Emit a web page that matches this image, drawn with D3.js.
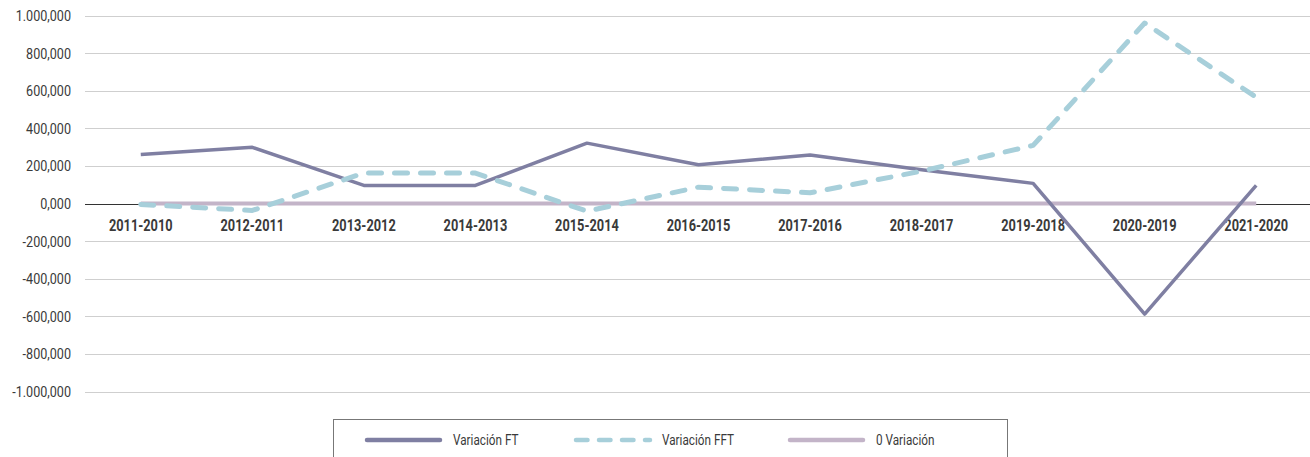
<!DOCTYPE html>
<html>
<head>
<meta charset="utf-8">
<script src="https://cdn.jsdelivr.net/npm/d3@7"></script>
<style>
  body { margin: 0; background: #fff; }
  svg text { font-family: Roboto, "Noto Sans", sans-serif; }
</style>
</head>
<body>
<div class="chart"></div>
<script>
  // categorias y valores
  var categorias = ['2011-2010','2012-2011','2013-2012','2014-2013','2015-2014','2016-2015','2017-2016','2018-2017','2019-2018','2020-2019','2021-2020'];
  var variacionFT  = [261000, 299000, 96000, 96000, 321000, 206000, 258000, 180000, 107000, -588000, 96000];
  var variacionFFT = [-5000, -37000, 162000, 162000, -41000, 87000, 57000, 172000, 309000, 960000, 565000];
  var ceroVariacion = [0, 0, 0, 0, 0, 0, 0, 0, 0, 0, 0];
  var yTicks = [1000000, 800000, 600000, 400000, 200000, 0, -200000, -400000, -600000, -800000, -1000000];
  var yTickLabels = ['1.000,000','800,000','600,000','400,000','200,000','0,000','-200,000','-400,000','-600,000','-800,000','-1.000,000'];
  var leyenda = ['Variación FT', 'Variación FFT', '0 Variación'];

  var w = 1310, h = 457;
  var narrow = 0.84; // la fuente original es condensada
  var svg = d3.select(".chart").append("svg")
    .attr("width", w).attr("height", h);

  var x = d3.scaleBand().domain(categorias).range([85, 1312]);
  var y = d3.scaleLinear().domain([-1000000, 1000000]).range([391.5, 15.5]);
  var cx = function(d){ return x(d) + x.bandwidth()/2; };

  // lineas de cuadricula
  svg.append("g").selectAll("line")
    .data(yTicks.filter(function(d){ return d != 0; }))
    .enter().append("line")
    .attr("x1", 85).attr("x2", 1310)
    .attr("y1", function(d){ return Math.round(y(d)) + 0.5; })
    .attr("y2", function(d){ return Math.round(y(d)) + 0.5; })
    .attr("stroke", "#cfcfcf").attr("stroke-width", 1);

  // eje cero
  svg.append("line")
    .attr("x1", 85).attr("x2", 1310)
    .attr("y1", Math.round(y(0)) + 0.5).attr("y2", Math.round(y(0)) + 0.5)
    .attr("stroke", "#333").attr("stroke-width", 1);

  // etiquetas eje y
  svg.append("g").selectAll("text")
    .data(yTicks)
    .enter().append("text")
    .attr("transform", function(d){ return "translate(71," + y(d) + ") scale(" + narrow + ",1)"; })
    .attr("dy", "0.36em")
    .attr("text-anchor", "end")
    .style("font-size", "15px")
    .attr("fill", "#3a3a3a")
    .text(function(d, i){ return yTickLabels[i]; });

  // etiquetas eje x
  svg.append("g").selectAll("text")
    .data(categorias)
    .enter().append("text")
    .attr("transform", function(d){ return "translate(" + cx(d) + "," + (y(0) + 27) + ") scale(0.8,1)"; })
    .attr("text-anchor", "middle")
    .style("font-size", "16px")
    .style("font-weight", "bold")
    .attr("fill", "#3a3a3a")
    .text(function(d){ return d; });

  var series = [
    { name: leyenda[0], values: variacionFT, color: "#7f7fa2", width: 3.5, dash: null, cap: "butt" },
    { name: leyenda[1], values: variacionFFT, color: "#a7cfda", width: 5, dash: "13,13", cap: "round" },
    { name: leyenda[2], values: ceroVariacion, color: "#c3b4c8", width: 4, dash: null, cap: "butt" }
  ];
  var drawOrder = [series[2], series[0], series[1]];

  var line = d3.line()
    .x(function(d, i){ return cx(categorias[i]); })
    .y(function(d){ return y(d); });

  svg.append("g").selectAll("path")
    .data(drawOrder)
    .enter().append("path")
    .attr("d", function(d){ return line(d.values); })
    .attr("fill", "none")
    .attr("stroke", function(d){ return d.color; })
    .attr("stroke-width", function(d){ return d.width; })
    .attr("stroke-dasharray", function(d){ return d.dash; })
    .attr("stroke-linecap", function(d){ return d.cap; })
    .attr("stroke-linejoin", "round");

  // leyenda
  var lg = svg.append("g");
  lg.append("rect")
    .attr("x", 333.5).attr("y", 419.5)
    .attr("width", 674).attr("height", 60)
    .attr("fill", "#fff").attr("stroke", "#777").attr("stroke-width", 1);

  var lx = [367, 576, 790];
  var item = lg.selectAll(".item")
    .data(series)
    .enter().append("g")
    .attr("class", "item")
    .attr("transform", function(d, i){ return "translate(" + lx[i] + ",440)"; });
  item.append("line")
    .attr("x1", 0).attr("x2", function(d, i){ return i == 1 ? 74 : 73; })
    .attr("y1", 0).attr("y2", 0)
    .attr("stroke", function(d){ return d.color; })
    .attr("stroke-width", 4.5)
    .attr("stroke-linecap", "round")
    .attr("stroke-dasharray", function(d){ return d.dash ? "11.5,11.5" : null; });
  item.append("text")
    .attr("transform", "translate(86,0) scale(" + narrow + ",1)")
    .attr("dy", "0.36em")
    .style("font-size", "14px")
    .attr("fill", "#3a3a3a")
    .text(function(d){ return d.name; });
</script>
</body>
</html>
